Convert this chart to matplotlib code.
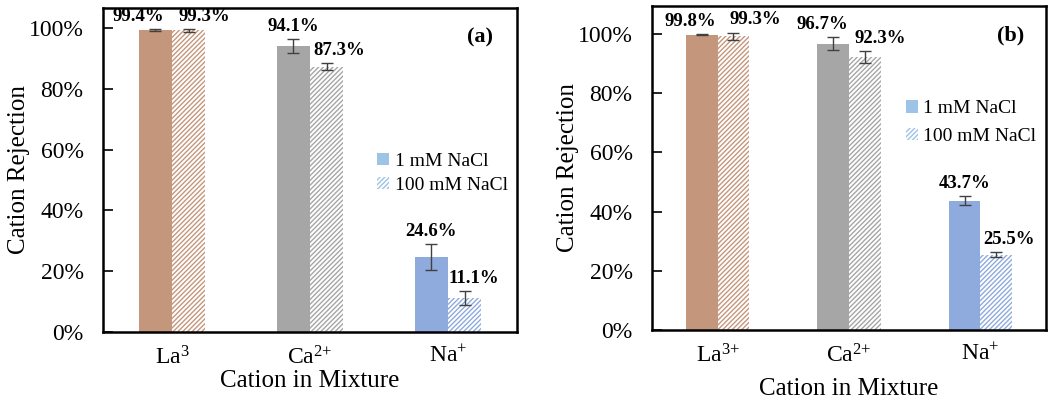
import matplotlib
matplotlib.use("Agg")
import matplotlib.pyplot as plt
import numpy as np

plt.rcParams['font.family'] = ['Liberation Serif', 'DejaVu Serif']
plt.rcParams['mathtext.fontset'] = 'custom'
plt.rcParams['mathtext.rm'] = 'Liberation Serif'
plt.rcParams['mathtext.it'] = 'Liberation Serif:italic'
plt.rcParams['hatch.linewidth'] = 1.0

# data (fractions)
labels_a = ['La$^{3}$', 'Ca$^{2{+}}$', 'Na$^{{+}}$']
labels_b = ['La$^{3{+}}$', 'Ca$^{2{+}}$', 'Na$^{{+}}$']
low_a = [0.994, 0.941, 0.246]
high_a = [0.993, 0.873, 0.111]
low_a_err = [0.003, 0.022, 0.043]
high_a_err = [0.005, 0.0125, 0.023]
low_b = [0.998, 0.967, 0.437]
high_b = [0.993, 0.923, 0.255]
low_b_err = [0.002, 0.022, 0.016]
high_b_err = [0.012, 0.021, 0.008]
series_names = ['1 mM NaCl', '100 mM NaCl']

colors = ['#C4977C', '#A6A6A6', '#8FAADC']
W, H = 1050, 403
HATCH = '///////'


def draw_panel(ax, cats, low, high, low_err, high_err, tag, ymax,
               dx_low, dx_high, legend_xy, legend_sp, xlab_pad):
    x = np.arange(len(cats))
    w = 0.24
    ax.bar(x - w / 2, low, w, color=colors, linewidth=0)
    ax.bar(x + w / 2, high, w, color='white', edgecolor=colors,
           hatch=HATCH, linewidth=0)
    ax.errorbar(x - w / 2, low, yerr=low_err, fmt='none', ecolor='#404040',
                elinewidth=1, capsize=4, capthick=1)
    ax.errorbar(x + w / 2, high, yerr=high_err, fmt='none', ecolor='#404040',
                elinewidth=1, capsize=4, capthick=1)
    vals = list(low) + list(high)
    errs = list(low_err) + list(high_err)
    xs = list(x - w / 2) + list(x + w / 2)
    dxs = list(dx_low) + list(dx_high)
    for xx, v, e, dx in zip(xs, vals, errs, dxs):
        ax.annotate(f'{v * 100:.1f}%', (xx, v + e), xytext=(dx, 3),
                    textcoords='offset points', ha='center', va='bottom',
                    fontsize=13.5, fontweight='bold')
    ax.set_xlim(-0.5, 2.5)
    ax.set_ylim(0, ymax)
    ticks = np.arange(0, 1.01, 0.2)
    ax.set_yticks(ticks)
    ax.set_yticklabels([f'{int(round(t * 100))}%' for t in ticks])
    ax.set_xticks(x)
    ax.set_xticklabels(cats)
    ax.tick_params(axis='y', direction='in', length=7, width=1.2, pad=14, labelsize=17)
    ax.tick_params(axis='x', length=0, pad=10, labelsize=17)
    for s in ax.spines.values():
        s.set_linewidth(1.8)
    ax.set_ylabel('Cation Rejection', fontsize=18, labelpad=-1)
    ax.set_xlabel('Cation in Mixture', fontsize=18, labelpad=xlab_pad)
    ax.text(0.91, 0.91, tag, transform=ax.transAxes, ha='center', va='center',
            fontsize=16, fontweight='bold')
    # legend with the Na+ colours
    h1 = plt.Rectangle((0, 0), 1, 1, color='#9DC3E6', linewidth=0)
    h2 = plt.Rectangle((0, 0), 1, 1, facecolor='white', edgecolor='#9DC3E6',
                       hatch=HATCH, linewidth=0)
    ax.legend([h1, h2], series_names, loc='center left',
              bbox_to_anchor=legend_xy, frameon=False, fontsize=14,
              handlelength=0.6, handleheight=0.6, handletextpad=0.3,
              labelspacing=legend_sp)


fig = plt.figure(figsize=(W / 100, H / 100), dpi=100)
ax1 = fig.add_axes([103 / W, (H - 332) / H, 414 / W, 324 / H])
ax2 = fig.add_axes([652 / W, (H - 330) / H, 394 / W, 324 / H])

draw_panel(ax1, labels_a, low_a, high_a, low_a_err, high_a_err, '(a)', 1.066,
           [-12, 0, 0], [11, 9, 7], (0.62, 0.49), 0.35, 1)
draw_panel(ax2, labels_b, low_b, high_b, low_b_err, high_b_err, '(b)', 1.095,
           [-8, -8, 0], [16, 11, 9], (0.60, 0.64), 0.55, 8)

fig.savefig('out.png', dpi=100)
